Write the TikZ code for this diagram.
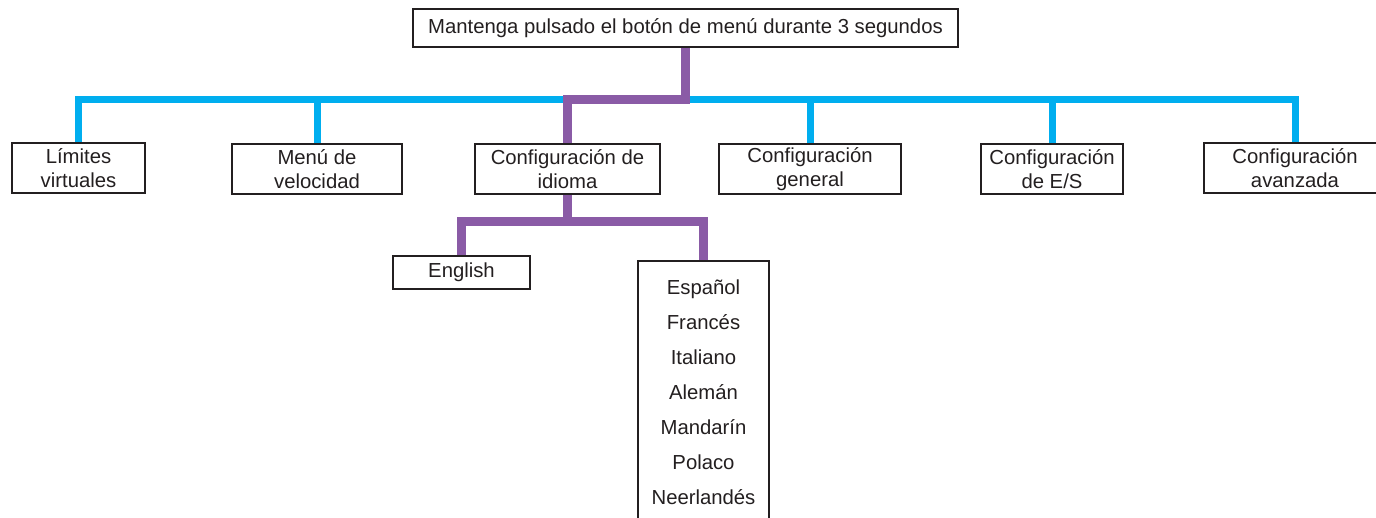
\documentclass[tikz,border=0pt]{standalone}
\usepackage{fontspec}
\setmainfont{Liberation Sans}
\definecolor{busblue}{HTML}{00AEEF}
\definecolor{selpurple}{HTML}{8A5BA6}
\definecolor{inkgray}{HTML}{231F20}
\pgfdeclarelayer{background}
\pgfsetlayers{background,main}

\begin{document}
\begin{tikzpicture}[x=1pt,y=-1pt,
  menubox/.style 2 args={draw=inkgray,fill=white,line width=2.5pt,text=inkgray,align=center,inner sep=0pt,
    minimum width=#1,minimum height=#2,font=\fontsize{20.3}{23.5}\selectfont},
  bus/.style={busblue,line width=7pt},
  sel/.style={selpurple,line width=9pt}]
  \useasboundingbox (0,0) rectangle (1376,518);
  \clip (0,0) rectangle (1376,518);
  % start
  \node[menubox={545pt}{38pt}] (hold) at (685.5,28) {Mantenga pulsado el botón de menú durante 3 segundos};
  % main menu
  \node[menubox={133pt}{50pt}] (lim) at (78.5,168) {Límites\\virtuales};
  \node[menubox={170pt}{50pt}] (vel) at (317,169) {Menú de\\velocidad};
  \node[menubox={185pt}{50pt}] (idi) at (567.5,169) {Configuración de\\idioma};
  \node[menubox={182pt}{50pt}] (gen) at (810,169) {Configuración\\general};
  \node[menubox={142pt}{50pt}] (es) at (1052,169) {Configuración\\de E/S};
  \node[menubox={182pt}{50pt}] (adv) at (1295,168) {Configuración\\avanzada};
  % languages
  \node[menubox={137pt}{33pt}] (eng) at (461.5,272.5) {English};
  \node[menubox={131pt}{0pt},anchor=north,inner ysep=18.5pt,font=\fontsize{20.3}{35}\selectfont] (lst) at (703.5,260)
    {Español\\Francés\\Italiano\\Alemán\\Mandarín\\Polaco\\Neerlandés};
  \coordinate (bus) at (0,100);
  \coordinate (sub) at (0,221.5);
  \begin{pgfonlayer}{background}
    % blue bus
    \draw[bus] (lim.north) |- (adv.north |- bus) -- (adv.north);
    \foreach \n in {vel,gen,es}
      \draw[bus] (\n.north) -- (\n.north |- bus);
    % selected path
    \draw[sel] (hold.south) |- (idi.north |- bus) -- (idi.north);
    \draw[sel] (idi.south) -- (idi.south |- sub);
    \draw[sel] (eng.north) |- (lst.north |- sub) -- (lst.north);
  \end{pgfonlayer}
\end{tikzpicture}
\end{document}
